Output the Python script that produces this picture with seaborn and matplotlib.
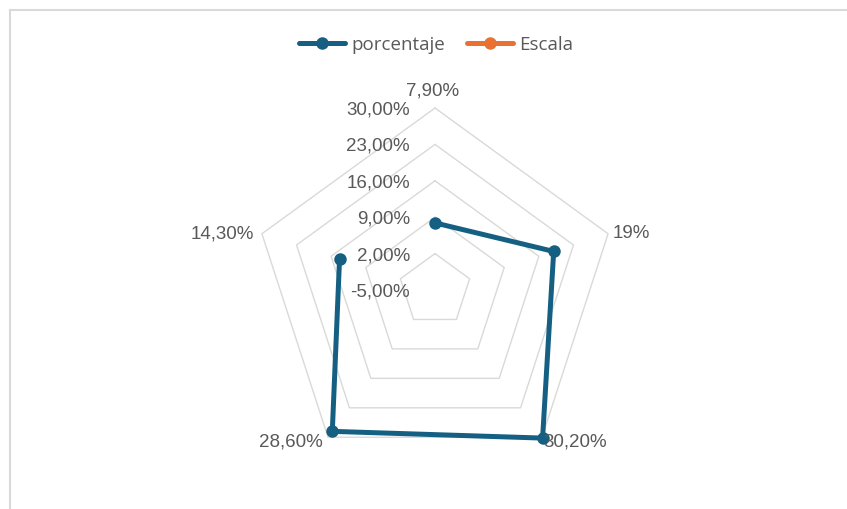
import numpy as np
import pandas as pd
import matplotlib
matplotlib.use("Agg")
import matplotlib.pyplot as plt
from matplotlib.lines import Line2D
import seaborn as sns

# ---- data ----
categories = ["7,90%", "19%", "30,20%", "28,60%", "14,30%"]
porcentaje = [7.9, 19.0, 30.2, 28.6, 14.3]
scale_ticks = [-5, 2, 9, 16, 23, 30]
tick_labels = ["-5,00%", "2,00%", "9,00%", "16,00%", "23,00%", "30,00%"]
series_names = ["porcentaje", "Escala"]
series_colors = ["#156082", "#E97132"]

sns.set_theme(style="white")
plt.rcParams['font.family'] = ['Liberation Sans', 'DejaVu Sans']

W, H, DPI = 847, 509, 100
fig = plt.figure(figsize=(W / DPI, H / DPI), dpi=DPI)
ax = fig.add_axes([0, 0, 1, 1])
ax.set_axis_off()

cx, cy, R = 435, 290, 182  # pixel layout of radar
ax.set_xlim(-cx / R, (W - cx) / R)
ax.set_ylim(-(H - cy) / R, cy / R)

rmin, rmax = scale_ticks[0], scale_ticks[-1]
n = len(categories)
angles = np.pi / 2 - 2 * np.pi * np.arange(n) / n

def norm(v):
    return (np.asarray(v, dtype=float) - rmin) / (rmax - rmin)

FS = 13.5
TXT = "#595959"

# grid rings
for t in scale_ticks[1:]:
    r = norm(t)
    xs = np.append(r * np.cos(angles), r * np.cos(angles[0]))
    ys = np.append(r * np.sin(angles), r * np.sin(angles[0]))
    ax.plot(xs, ys, color="#d9d9d9", lw=1.0, zorder=1)

# tick labels
for t, lab in zip(scale_ticks, tick_labels):
    r = norm(t)
    ax.annotate(lab, (0, r), xytext=(-18, -1.5), textcoords="offset points",
                ha="right", va="center", fontsize=FS, color=TXT)

# data series
rv = norm(porcentaje)
df = pd.DataFrame({
    "x": np.append(rv * np.cos(angles), rv[0] * np.cos(angles[0])),
    "y": np.append(rv * np.sin(angles), rv[0] * np.sin(angles[0])),
})
sns.lineplot(data=df, x="x", y="y", sort=False, ax=ax, color=series_colors[0],
             lw=3.6, marker="o", markersize=9, markeredgewidth=0, zorder=3,
             legend=False)
ax.set_xlabel("")
ax.set_ylabel("")

# category labels
offsets = [(-2, 6), (3, 0), (1, -3.5), (-4, -3.5), (-6, 0)]
for a, lab, off in zip(angles, categories, offsets):
    c = np.cos(a)
    s = np.sin(a)
    ha = "left" if c > 0.1 else ("right" if c < -0.1 else "center")
    va = "bottom" if s > 0.9 else "center"
    ax.annotate(lab, (c, s), xytext=off, textcoords="offset points",
                ha=ha, va=va, fontsize=FS, color=TXT)

# legend
handles = [Line2D([0], [0], color=col, lw=3.6, marker="o", markersize=9,
                  markeredgewidth=0) for col in series_colors]
leg = fig.legend(handles, series_names, loc="center", bbox_to_anchor=(0.515, 1 - 45 / H),
                 ncol=2, frameon=False, handlelength=2.45,
                 columnspacing=1.15, handletextpad=0.35,
                 prop={"family": ["Open Sans", "DejaVu Sans"], "size": 13.5})
for t in leg.get_texts():
    t.set_color(TXT)

# border (top and left of the chart area)
fig.add_artist(Line2D([10 / W, 1], [1 - 10 / H, 1 - 10 / H], transform=fig.transFigure,
                      color="#d9d9d9", lw=1.5))
fig.add_artist(Line2D([10 / W, 10 / W], [0, 1 - 10 / H], transform=fig.transFigure,
                      color="#d9d9d9", lw=1.5))

fig.savefig("out.png", dpi=DPI)
